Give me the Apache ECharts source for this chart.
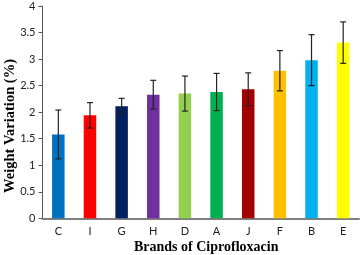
<!DOCTYPE html>
<html><head><meta charset="utf-8">
<script src="https://cdn.jsdelivr.net/npm/echarts@6/dist/echarts.min.js"></script>
<style>html,body{margin:0;padding:0;background:#fff}#c{width:360px;height:255px}</style>
</head><body><div id="c"></div>
<script>
const categories = ['C','I','G','H','D','A','J','F','B','E'];
const values = [1.58, 1.94, 2.11, 2.33, 2.35, 2.38, 2.43, 2.78, 2.98, 3.31];
const errors = [0.46, 0.24, 0.15, 0.27, 0.33, 0.35, 0.31, 0.38, 0.48, 0.39];
const colors = ['#0070C0','#FF0000','#002060','#7030A0','#92D050','#00B050','#A50000','#FFC000','#00B0F0','#FFFF00'];
const yTicks = [0, 0.5, 1, 1.5, 2, 2.5, 3, 3.5, 4];
const xTitle = 'Brands of Ciprofloxacin';
const yTitle = 'Weight Variation (%)';

const titleFont = {fontFamily:'Liberation Serif', fontWeight:'bold', fontSize:14, fill:'#000'};
const chart = echarts.init(document.getElementById('c'), null, {renderer:'canvas'});
chart.setOption({
  animation:false,
  grid:{left:42.5, right:1, top:6, bottom:36.7, outerBoundsMode:'none', containLabel:false},
  xAxis:{
    type:'category', data:categories,
    axisLine:{lineStyle:{color:'#7f7f7f', width:2}},
    axisTick:{show:false},
    axisLabel:{color:'#222', fontFamily:'Lato', fontSize:11, margin:8}
  },
  yAxis:{
    type:'value', min:0, max:4, interval:0.5,
    axisLine:{show:true, lineStyle:{color:'#595959', width:1}},
    axisTick:{show:true, inside:false, length:4, lineStyle:{color:'#595959'}},
    splitLine:{show:false},
    axisLabel:{color:'#222', fontFamily:'Lato', fontSize:11, margin:7,
      formatter:v=> yTicks.indexOf(v)>=0 ? String(v) : ''}
  },
  graphic:[
    {type:'text', left:134, top:240, style:Object.assign({text:xTitle}, titleFont)},
    {type:'text', x:3, y:126, rotation:Math.PI/2,
     style:Object.assign({text:yTitle, align:'center', verticalAlign:'top'}, titleFont, {fontSize:14.5})}
  ],
  series:[
    {type:'bar', barWidth:12.5,
     data:values.map((v,i)=>({value:v, itemStyle:{color:colors[i]}}))},
    {type:'custom', z:10,
     renderItem:function(params, api){
       const i = api.value(0);
       const v = values[i], e = errors[i];
       const hi = api.coord([i, v+e]);
       const lo = api.coord([i, v-e]);
       const x = hi[0], cw = 3;
       const st = {stroke:'#222', lineWidth:1.2};
       return {type:'group', children:[
         {type:'line', shape:{x1:x,y1:hi[1],x2:x,y2:lo[1]}, style:st},
         {type:'line', shape:{x1:x-cw,y1:hi[1],x2:x+cw,y2:hi[1]}, style:st},
         {type:'line', shape:{x1:x-cw,y1:lo[1],x2:x+cw,y2:lo[1]}, style:st}
       ]};
     },
     data:categories.map((c,i)=>[i])}
  ]
});
</script></body></html>
